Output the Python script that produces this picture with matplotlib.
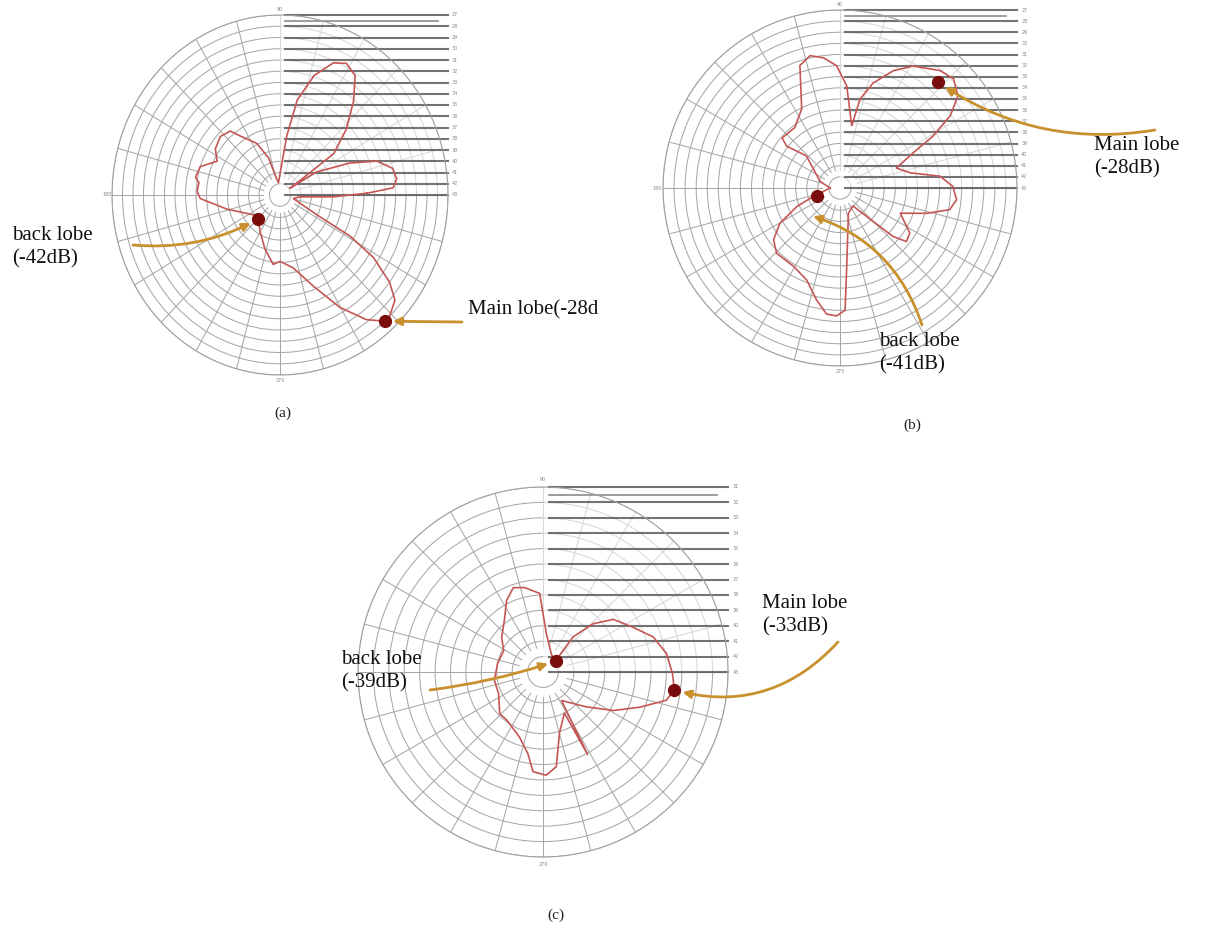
import numpy as np
import matplotlib
matplotlib.use("Agg")
import matplotlib.pyplot as plt
from matplotlib.patches import Rectangle
from matplotlib.transforms import offset_copy

# ---------------- data (angle in degrees, level in dB) ----------------
A_ANG = [1.1, 3.4, 7.3, 12.4, 18.1, 23.2, 30.6, 32.5, 34, 35.7,
         42.8, 50, 56, 61.6, 66.6, 73, 79, 83, 98, 102.5,
         108.4, 115.8, 126, 129.8, 137.5, 146.3, 153.4, 161.6, 168.9, 171.9,
         177.7, 182.4, 194, 214.5, 225.9, 240.3, 253.3, 264, 270, 281,
         291.4, 299.7, 306.6, 311.6, 314.1, 319.5, 323.4, 328, 331.3, 333.4,
         346, 355, 358.2, 361.1]
A_DB = [-34.7, -32.2, -31.8, -32.0, -33.3, -35.8, -39.0, -41.9, -40.7, -36.7,
        -34.4, -32.1, -30.2, -29.7, -30.2, -31.9, -34.4, -37.7, -41.9, -41.5,
        -39.5, -37.9, -36.5, -35.6, -35.3, -35.6, -36.3, -35.0, -34.8, -35.2,
        -35.1, -35.4, -37.8, -39.9, -40.0, -39.2, -38.0, -36.8, -37.1, -36.4,
        -34.3, -31.5, -29.2, -28.0, -28.0, -28.6, -30.0, -32.5, -35.4, -39.1,
        -41.7, -41.1, -37.9, -34.7]
A_MAIN = (311.6, -28.0)
A_BACK = (225.9, -40.0)

B_ANG = [180, 161.6, 136.5, 142, 139.4, 126.9, 116, 108.2, 102.8, 97.3,
         91.6, 86.2, 79.3, 77.2, 72.4, 65.4, 58.9, 49.4, 43.7, 37.8,
         33.1, 29, 25.5, 19.4, 12.1, 6.7, 0.8, -5.7, -11.1, -16.1,
         -22.6, -32.7, -38.7, -42.2, -45, -54, -71.6, -85.1, -87.6, -91.5,
         -96.1, -101.8, -110, -120.8, -134.3, -142.2, -149.7, -157, -162.6, -180]
B_DB = [-42.1, -41.1, -38.8, -36.9, -36.1, -36.2, -35.1, -31.4, -30.8, -31.2,
        -32.0, -33.8, -37.3, -34.8, -33.1, -31.4, -30.2, -29.1, -28.8, -29.5,
        -31.1, -33.4, -35.7, -37.6, -36.5, -33.9, -32.8, -32.4, -32.9, -34.8,
        -37.1, -35.5, -35.3, -36.5, -38.7, -41.0, -40.6, -35.9, -32.0, -31.5,
        -31.6, -32.7, -34.2, -34.8, -34.8, -35.4, -36.7, -38.8, -40.5, -42.1]
B_MAIN = (46.9, -30.0)
B_BACK = (-160.3, -40.8)

C_ANG = [40.6, 49.4, 44, 36.8, 26.6, 17.7, 8.5, -0.7, -7.9, -12.9,
         -19.9, -28.7, -38.9, -57, -61.6, -62.5, -74.9, -82, -88.2, -95.7,
         -100.4, -109.7, -127.2, -136, -154.3, -170.2, -190.5, -208.4, -220, -233.4,
         -243, -250.6, -257.8, -267.6, -270, -275, -294.4, -319.4]
C_DB = [-42.0, -40.0, -38.5, -37.3, -36.5, -35.5, -34.9, -34.6, -34.4, -34.8,
        -36.3, -37.8, -39.4, -40.8, -36.9, -40.0, -38.9, -36.8, -36.3, -36.5,
        -37.6, -38.5, -39.1, -39.1, -39.8, -39.8, -40.0, -40.1, -39.5, -38.8,
        -37.8, -37.2, -37.4, -37.9, -39.2, -40.5, -41.7, -42.0]
C_MAIN = (-7.9, -34.4)
C_BACK = (40.0, -41.9)

# radial ranges (dB) of each panel
A_RANGE = (-43, -27)
B_RANGE = (-43, -27)
C_RANGE = (-43, -31)

# ---------------- figure ----------------
W, H = 1206, 943
fig = plt.figure(figsize=(W / 100, H / 100), dpi=100)
fig.patch.set_facecolor("white")

SERIF = ["Liberation Serif", "DejaVu Serif"]
CURVE = "#c45656"
DOT = "#7a0c0c"
ARROW = "#c8912e"
GRID = "#a8a8a8"


def rect(cx, cy, rx, ry):
    return [(cx - rx) / W, 1 - (cy + ry) / H, 2 * rx / W, 2 * ry / H]


def polar_panel(box, rng, ang, db, main, back, show180=True):
    ax = fig.add_axes(box, projection="polar")
    ax.set_aspect("auto")
    lo, hi = rng
    ax.set_ylim(lo, hi)
    ax.set_yticks(np.arange(lo + 1, hi + 1, 1))
    ax.set_yticklabels([])
    ax.set_xticks([])
    ax.yaxis.grid(True, color=GRID, lw=0.75)
    ax.xaxis.grid(False)
    ax.spines["polar"].set_color("#a0a0a0")
    ax.spines["polar"].set_linewidth(0.8)
    ax.tick_params(length=0)
    # spokes every 15 degrees, leaving the centre open
    for th in np.deg2rad(np.arange(0, 360, 15)):
        ax.plot([th, th], [lo + 1.6, hi], color=GRID, lw=0.75, zorder=1.5)
    # lighten the upper-right quadrant (scale overlay area)
    ax.add_patch(Rectangle((0.5, 0.5), 0.5, 0.5, transform=ax.transAxes,
                           facecolor="white", alpha=0.55, edgecolor="none",
                           zorder=1.6))
    n = hi - lo
    for k in range(n + 1):
        y = 0.5 + 0.5 * k / n
        ax.plot([0.515, 1.0], [y, y], transform=ax.transAxes, color="#5a5a5a",
                lw=1.5, alpha=0.85, clip_on=False, zorder=1.8)
        ax.text(1.012, y, str(-(lo + k)), transform=ax.transAxes,
                fontsize=3.5, color="#888888", va="center", ha="left")
    ytop = 0.5 + 0.5 * (n - 0.5) / n
    ax.plot([0.515, 0.97], [ytop, ytop], transform=ax.transAxes,
            color="#5a5a5a", lw=1.2, alpha=0.7, clip_on=False, zorder=1.8)
    labs = [(90, "90"), (270, "270")]
    if show180:
        labs.append((180, "180"))
    for deg, lab in labs:
        ax.text(np.deg2rad(deg), hi + 0.5, lab, fontsize=3.5, color="#888888",
                ha="center", va="center")
    ax.plot(np.deg2rad(ang), db, color=CURVE, lw=1.2, zorder=3)
    for p in (main, back):
        ax.plot(np.deg2rad(p[0]), p[1], "o", color=DOT, ms=8.5, zorder=4)
    return ax


axa = polar_panel(rect(280, 195, 168, 180), A_RANGE, A_ANG, A_DB, A_MAIN, A_BACK)
axb = polar_panel(rect(840, 188, 177, 178), B_RANGE, B_ANG, B_DB, B_MAIN, B_BACK)
axc = polar_panel(rect(543, 672, 185, 185), C_RANGE, C_ANG, C_DB, C_MAIN, C_BACK,
                  show180=False)


def fx(px):
    return px / W


def fy(py):
    return 1 - py / H


def arrow(ax, pt, tail, rad, shrink=6, off=(0, 0)):
    trans = offset_copy(ax.transData, fig=fig, x=off[0], y=off[1], units="dots")
    ax.annotate("", xy=(np.deg2rad(pt[0]), pt[1]), xycoords=trans,
                xytext=(fx(tail[0]), fy(tail[1])), textcoords="figure fraction",
                arrowprops=dict(arrowstyle="-|>", color=ARROW, lw=2.0,
                                mutation_scale=12, shrinkA=0, shrinkB=shrink,
                                connectionstyle=f"arc3,rad={rad}"),
                annotation_clip=False, zorder=5)


arrow(axa, A_BACK, (133, 245), 0.15)
arrow(axa, A_MAIN, (462, 322), 0.0)
arrow(axb, B_MAIN, (1155, 130), -0.2)
arrow(axb, B_BACK, (922, 325), 0.25, shrink=0, off=(-4, -20))
arrow(axc, C_BACK, (430, 690), 0.05)
arrow(axc, C_MAIN, (838, 642), -0.3)

TXT = dict(fontsize=15, family=SERIF, color="#111111", linespacing=1.3)
fig.text(fx(12), fy(226), "back lobe\n(-42dB)", va="top", ha="left", **TXT)
fig.text(fx(468), fy(310), "Main lobe(-28d", va="center", ha="left", **TXT)
fig.text(fx(1094), fy(136), "Main lobe\n(-28dB)", va="top", ha="left", **TXT)
fig.text(fx(879), fy(332), "back lobe\n(-41dB)", va="top", ha="left", **TXT)
fig.text(fx(341), fy(650), "back lobe\n(-39dB)", va="top", ha="left", **TXT)
fig.text(fx(762), fy(594), "Main lobe\n(-33dB)", va="top", ha="left", **TXT)

LAB = dict(fontsize=11, family=SERIF, color="#222222", ha="center", va="center")
fig.text(fx(283), fy(413), "(a)", **LAB)
fig.text(fx(912), fy(425), "(b)", **LAB)
fig.text(fx(556), fy(915), "(c)", **LAB)

fig.savefig("out.png", dpi=100, facecolor="white")
